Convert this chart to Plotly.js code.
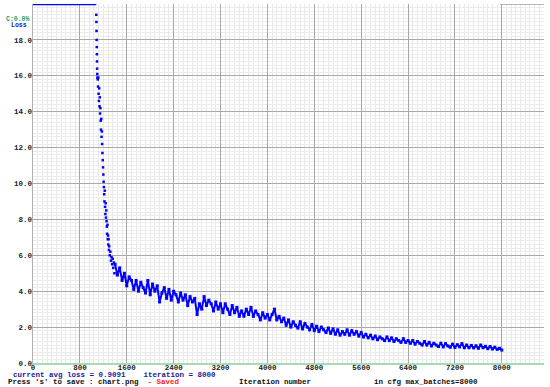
<!DOCTYPE html>
<html>
<head>
<meta charset="utf-8">
<script src="https://cdn.plot.ly/plotly-3.0.1.min.js"></script>
<style>html,body{margin:0;padding:0;background:#fff;}#chart{width:550px;height:387px;}</style>
</head>
<body>
<div id="chart"></div>
<script>
// ---- data ----
const earlyIter = [1080,1082,1084,1086,1088,1090,1092,1094,1096,1098,1105,1110,1115,1120,1125,1130,1135,1140,1145,1150,1155,1160,1165,1170,1175,1180,1185,1190,1195,1200,1205,1210,1215,1220,1225,1230,1235,1240,1245,1250,1255,1260,1265,1270,1275,1280,1285,1290,1295,1300,1310,1320,1330,1340,1350,1360,1370,1380,1390];
const earlyLoss = [19.4,19.0,18.5,18.0,17.6,17.2,16.8,16.4,16.1,15.9,15.8,15.4,15.9,15.0,14.6,15.3,14.3,14.8,13.9,14.2,13.5,13.0,13.6,12.6,12.9,12.2,11.7,11.3,10.9,10.5,10.1,9.8,9.4,9.0,9.6,8.7,8.3,8.9,8.1,8.5,7.9,7.6,7.2,7.7,6.9,7.1,6.6,6.9,6.3,6.5,6.0,6.2,5.7,5.9,5.5,5.8,5.3,5.6,5.0];

const iterations = [1400,1440,1480,1520,1560,1600,1640,1680,1720,1760,1800,1840,1880,1920,1960,2000,2040,2080,2120,2160,2200,2240,2280,2320,2360,2400,2440,2480,2520,2560,2600,2640,2680,2720,2760,2800,2840,2880,2920,2960,3000,3040,3080,3120,3160,3200,3240,3280,3320,3360,3400,3440,3480,3520,3560,3600,3640,3680,3720,3760,3800,3840,3880,3920,3960,4000,4040,4080,4120,4160,4200,4240,4280,4320,4360,4400,4440,4480,4520,4560,4600,4640,4680,4720,4760,4800,4840,4880,4920,4960,5000,5040,5080,5120,5160,5200,5240,5280,5320,5360,5400,5440,5480,5520,5560,5600,5640,5680,5720,5760,5800,5840,5880,5920,5960,6000,6040,6080,6120,6160,6200,6240,6280,6320,6360,6400,6440,6480,6520,6560,6600,6640,6680,6720,6760,6800,6840,6880,6920,6960,7000,7040,7080,7120,7160,7200,7240,7280,7320,7360,7400,7440,7480,7520,7560,7600,7640,7680,7720,7760,7800,7840,7880,7920,7960,8000];
const loss = [
  5.5,4.9,5.3,4.6,5.0,4.3,4.8,4.6,4.1,4.6,            // 1400-1760
  4.0,4.5,4.2,3.9,4.6,3.8,4.4,4.0,4.3,3.4,            // 1800-2160
  3.9,4.2,3.6,4.1,3.5,4.0,3.8,3.4,3.9,3.5,            // 2200-2560
  3.8,3.2,3.7,3.4,3.6,2.7,3.3,3.0,3.7,3.2,            // 2600-2960
  3.5,3.3,2.9,3.4,3.0,3.3,2.8,3.3,3.0,2.7,            // 3000-3360
  3.2,2.8,3.1,2.6,2.9,2.6,3.0,2.7,3.1,2.6,            // 3400-3760
  2.9,2.7,2.4,2.8,2.5,2.7,2.4,2.7,3.0,2.4,            // 3800-4160
  2.6,2.3,2.5,2.1,2.4,2.0,2.3,2.1,1.95,2.3,           // 4200-4560
  1.9,2.2,2.0,1.85,2.15,1.8,2.05,1.75,2.0,1.85,       // 4600-4960
  1.7,1.95,1.65,1.9,1.6,1.85,1.55,1.75,1.6,1.85,      // 5000-5360
  1.55,1.8,1.6,1.75,1.5,1.7,1.45,1.6,1.4,1.55,        // 5400-5760
  1.35,1.5,1.3,1.45,1.35,1.25,1.45,1.25,1.4,1.2,      // 5800-6160
  1.35,1.25,1.15,1.35,1.15,1.25,1.1,1.25,1.05,1.2,    // 6200-6560
  1.1,1.0,1.2,1.0,1.15,0.95,1.1,1.0,0.92,1.1,         // 6600-6960
  0.9,1.08,0.95,0.88,1.05,0.87,1.02,0.9,1.08,0.85,    // 7000-7360
  1.0,0.85,0.98,0.84,0.96,0.82,1.0,0.85,0.93,0.8,     // 7400-7760
  0.92,0.78,0.88,0.76,0.82,0.72                        // 7800-8000
];

const xTicks = [0,800,1600,2400,3200,4000,4800,5600,6400,7200,8000];
const yTicks = [0,2,4,6,8,10,12,14,16,18];
const maxBatches = 8000;
const xMax = 8720;
const yMax = 20;
const avgLoss = "0.9091";

// ---- layout helpers ----
const W = 550, H = 387, L = 33, R = 6, T = 4, B = 24;
const pw = W - L - R, ph = H - T - B;
const px = v => (v - L) / pw;
const py = v => (H - B - v) / ph;
const mono = "Liberation Mono, DejaVu Sans Mono, monospace";

const traces = [
  {x: earlyIter, y: earlyLoss, type: 'scatter', mode: 'markers',
   marker: {color: '#0000ff', size: 2.5, symbol: 'square'}, hoverinfo: 'skip'},
  {x: iterations, y: loss, type: 'scatter', mode: 'lines+markers',
   line: {color: '#0000ff', width: 2}, marker: {color: '#0000ff', size: 3, symbol: 'square'}, hoverinfo: 'skip'}
];

function ann(text, xPx, yPx, color, size) {
  return {text: text, xref: 'paper', yref: 'paper', x: px(xPx), y: py(yPx),
    xanchor: 'left', yanchor: 'middle', showarrow: false,
    font: {family: mono, size: size || 7.5, color: color, weight: 'bold'}};
}

const layout = {
  width: W, height: H,
  margin: {l: L, r: R, t: T, b: B, pad: 0},
  paper_bgcolor: '#ffffff', plot_bgcolor: '#ffffff',
  showlegend: false,
  xaxis: {range: [0, xMax], tickvals: xTicks, ticktext: xTicks.map(String),
    showgrid: true, gridcolor: '#a8a8a8', gridwidth: 1,
    minor: {dtick: 80, tick0: 0, showgrid: true, gridcolor: '#e8e8e8', gridwidth: 1},
    zeroline: false, showline: true, linecolor: '#a6dcb4', linewidth: 1.5,
    ticks: '', ticklabelstandoff: -4,
    tickfont: {family: mono, size: 7.5, color: '#222', weight: 'bold'}},
  yaxis: {range: [0, yMax], tickvals: yTicks, ticktext: yTicks.map(v => v.toFixed(1)),
    showgrid: true, gridcolor: '#a8a8a8', gridwidth: 1,
    minor: {dtick: 0.2, tick0: 0, showgrid: true, gridcolor: '#ececec', gridwidth: 1},
    zeroline: false, showline: true, linecolor: '#b0b0b0', linewidth: 1.5,
    ticks: '', ticklabelstandoff: -2,
    tickfont: {family: mono, size: 7.5, color: '#222', weight: 'bold'}},
  shapes: [
    {type: 'line', xref: 'x', yref: 'y', x0: 0, x1: earlyIter[0], y0: yMax, y1: yMax,
     line: {color: '#0000ff', width: 2.5}},
    {type: 'line', xref: 'x', yref: 'y', x0: maxBatches - 30, x1: xMax, y0: yMax, y1: yMax,
     line: {color: '#a0a0a0', width: 1.5}}
  ],
  annotations: [
    ann('C:0.0%', 4, 19, '#22a060', 6.5),
    ann('Loss', 9, 26, '#1020d0', 6.5),
    ann('current avg loss = ' + avgLoss + '    iteration = ' + maxBatches, 11, 375, '#1a1a9a'),
    ann("Press 's' to save : chart.png", 6, 382, '#111111'),
    ann(' - Saved', 141, 382, '#ff2020'),
    ann('Iteration number', 237, 382, '#111111'),
    ann('in cfg max_batches=' + maxBatches, 372, 382, '#111111')
  ]
};

Plotly.newPlot('chart', traces, layout, {staticPlot: true, displayModeBar: false});
</script>
</body>
</html>
